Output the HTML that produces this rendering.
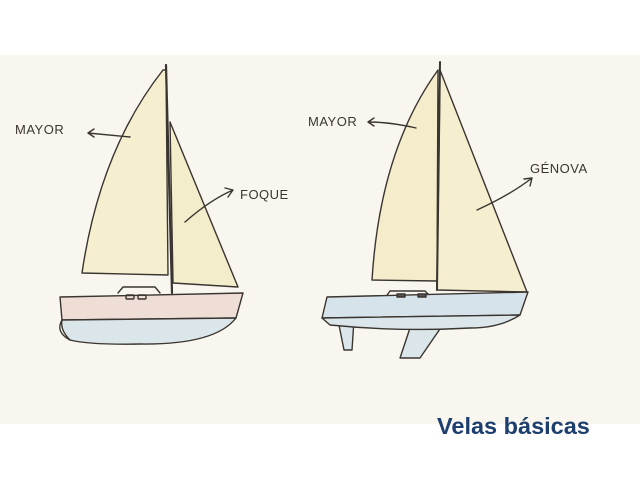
<!DOCTYPE html>
<html><head><meta charset="utf-8"><style>
html,body{margin:0;padding:0;background:#fff;width:640px;height:480px;overflow:hidden}
</style></head><body>
<svg width="640" height="480" viewBox="0 0 640 480" xmlns="http://www.w3.org/2000/svg" font-family="Liberation Sans, sans-serif">
<rect x="0" y="55" width="640" height="369" fill="#f8f6ef"/>
<g stroke="#3a3530" stroke-width="1.4" fill="none" stroke-linejoin="round" stroke-linecap="round">
<path d="M163,70 Q100,150 82,273 L168,275 L166,70Z" fill="#f5eecf"/>
<path d="M170,122 L238,287 L173,283Z" fill="#f4edcc"/>
<path d="M118,293 L123,287 L155,287 L160,293" fill="#f8f6ef"/>
<path d="M60,297 L243,293 L236,318 L62,320Z" fill="#efded6"/>
<path d="M62,320 L236,318 Q215,345 140,344 Q90,345 70,340 Q60,330 62,320Z" fill="#dbe6ea"/>
<path d="M62,320 Q55,332 70,340"/>
<line x1="166" y1="65" x2="172" y2="293" stroke-width="2.2"/>
<rect x="126" y="295" width="8" height="4" rx="1"/><rect x="138" y="295" width="8" height="4" rx="1"/>
<path d="M438,70 Q380,150 372,280 L437,281Z" fill="#f4ecca"/>
<path d="M440,70 L527,292 L437,290Z" fill="#f5eecf"/>
<path d="M385,298 L390,291 L425,291 L432,298" fill="#f8f6ef"/>
<path d="M338,320 L344,350 L352,350 L354,320Z" fill="#dbe6ea"/>
<path d="M410,328 L400,358 L420,358 L442,326Z" fill="#dbe6ea"/>
<path d="M327,297 L528,292 L520,315 L322,318Z" fill="#d6e3ea"/>
<path d="M322,318 L520,315 Q500,328 470,328 Q400,332 330,325Z" fill="#dbe6ea"/>
<line x1="440" y1="62" x2="437" y2="290" stroke-width="2"/>
<rect x="397" y="294" width="8" height="3" fill="#555"/><rect x="418" y="294" width="8" height="3" fill="#555"/>
<path d="M130,137 L88,133 M94,129 L88,133 L94,137"/>
<path d="M185,222 Q210,200 233,190 M225,188 L233,190 L228,197"/>
<path d="M416,128 Q390,122 368,122 M374,118 L368,122 L374,126"/>
<path d="M477,210 Q510,195 532,178 M524,179 L532,178 L530,186"/>
</g>
<g fill="#3a352f" font-size="13" letter-spacing="0.5">
<text x="15" y="134">MAYOR</text>
<text x="240" y="199">FOQUE</text>
<text x="308" y="126">MAYOR</text>
<text x="530" y="173">GÉNOVA</text>
</g>
<text x="437" y="434" font-size="23.5" font-weight="bold" fill="#1d3f6e">Velas básicas</text>
</svg>
</body></html>
